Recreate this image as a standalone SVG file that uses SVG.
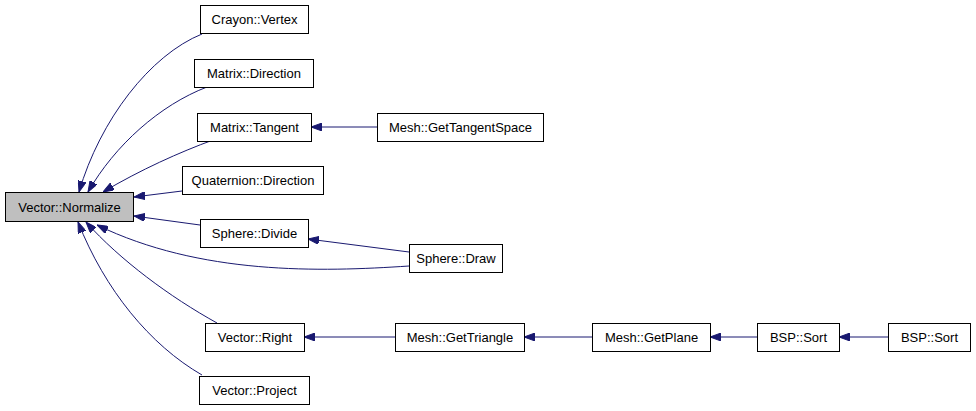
<svg xmlns="http://www.w3.org/2000/svg" width="976" height="411" viewBox="0 0 976 411">
<style>
.n rect{fill:#fff;stroke:#000;stroke-width:1}
.n text{font-family:"Liberation Sans",Arial,sans-serif;font-size:13px;text-anchor:middle;fill:#000}
#edges path{fill:none;stroke:#191970;stroke-width:1;marker-end:url(#ah)}
</style>
<defs>
<marker id="ah" viewBox="0 0 11 8" refX="11" refY="4" markerWidth="11" markerHeight="8" markerUnits="userSpaceOnUse" orient="auto">
<polygon points="0,0 11,4 0,8" fill="#191970" stroke="#191970"/>
</marker>
</defs>
<rect width="976" height="411" fill="#fff"/>
<g id="edges">
<path d="M202,34 C150,55 100,120 79,192"/>
<path d="M207,87 C160,105 115,145 88,192"/>
<path d="M213,140 C180,152 140,170 103,192"/>
<path d="M182,191 L134,197"/>
<path d="M200,225 L134,216"/>
<path d="M409,266 C320,272 200,275 97,225"/>
<path d="M217,323 C170,297 120,260 86,222"/>
<path d="M202,375 C150,345 105,290 78,222"/>
<path d="M377,127 L311,127"/>
<path d="M409,252 L308,239"/>
<path d="M395,337 L304,337"/>
<path d="M592,337 L524,337"/>
<path d="M757,337 L710,337"/>
<path d="M888,337 L839,337"/>
</g>
<g id="n_normalize" class="n"><rect x="5.5" y="192.5" width="128" height="29" style="fill:#bfbfbf"/><text x="69.5" y="211.5">Vector::Normalize</text></g>
<g id="n_crayon_vertex" class="n"><rect x="200.5" y="5.5" width="108" height="28"/><text x="254.5" y="24">Crayon::Vertex</text></g>
<g id="n_matrix_direction" class="n"><rect x="194.5" y="59.5" width="119" height="28"/><text x="254" y="78">Matrix::Direction</text></g>
<g id="n_matrix_tangent" class="n"><rect x="197.5" y="113.5" width="114" height="28"/><text x="254.5" y="132">Matrix::Tangent</text></g>
<g id="n_quaternion_direction" class="n"><rect x="182.5" y="166.5" width="141" height="28"/><text x="253" y="185">Quaternion::Direction</text></g>
<g id="n_sphere_divide" class="n"><rect x="200.5" y="219.5" width="108" height="28"/><text x="254.5" y="238">Sphere::Divide</text></g>
<g id="n_vector_right" class="n"><rect x="205.5" y="323.5" width="99" height="28"/><text x="255" y="342">Vector::Right</text></g>
<g id="n_vector_project" class="n"><rect x="199.5" y="376.5" width="110" height="28"/><text x="254.5" y="395">Vector::Project</text></g>
<g id="n_mesh_gettangentspace" class="n"><rect x="377.5" y="113.5" width="166" height="28"/><text x="460.5" y="132">Mesh::GetTangentSpace</text></g>
<g id="n_sphere_draw" class="n"><rect x="409.5" y="244.5" width="93" height="28"/><text x="456" y="263">Sphere::Draw</text></g>
<g id="n_mesh_gettriangle" class="n"><rect x="395.5" y="323.5" width="129" height="28"/><text x="460" y="342">Mesh::GetTriangle</text></g>
<g id="n_mesh_getplane" class="n"><rect x="592.5" y="323.5" width="118" height="28"/><text x="651.5" y="342">Mesh::GetPlane</text></g>
<g id="n_bsp_sort1" class="n"><rect x="757.5" y="323.5" width="82" height="28"/><text x="798.5" y="342">BSP::Sort</text></g>
<g id="n_bsp_sort2" class="n"><rect x="888.5" y="323.5" width="82" height="28"/><text x="929.5" y="342">BSP::Sort</text></g>
</svg>
